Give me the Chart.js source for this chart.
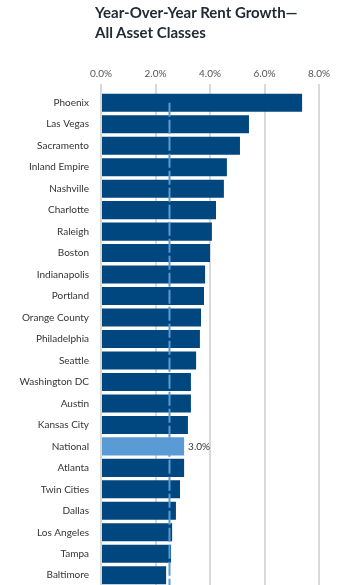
<!DOCTYPE html>
<html>
<head>
<meta charset="utf-8">
<script src="https://cdn.jsdelivr.net/npm/chart.js@4.4.1/dist/chart.umd.min.js"></script>
<style>
  html, body { margin: 0; padding: 0; background: #fff; overflow: hidden; }
  #wrap { position: relative; width: 339px; height: 585px; }
  #title { position: absolute; left: 95px; top: 2px; font-family: Lato, sans-serif; font-weight: bold;
           font-size: 15px; line-height: 20px; color: #222a36; }
  #chart { position: absolute; left: 0; top: 0; }
</style>
</head>
<body>
<div id="wrap">
  <canvas id="chart" width="339" height="586"></canvas>
  <div id="title">Year-Over-Year Rent Growth—<br>All Asset Classes</div>
</div>
<script>
// villes et croissance des loyers (%)
const markets = ['Phoenix', 'Las Vegas', 'Sacramento', 'Inland Empire', 'Nashville', 'Charlotte', 'Raleigh',
  'Boston', 'Indianapolis', 'Portland', 'Orange County', 'Philadelphia', 'Seattle', 'Washington DC',
  'Austin', 'Kansas City', 'National', 'Atlanta', 'Twin Cities', 'Dallas', 'Los Angeles', 'Tampa', 'Baltimore'];
const growth = [7.38, 5.43, 5.1, 4.62, 4.51, 4.22, 4.07, 4.0, 3.82, 3.78, 3.67, 3.63, 3.49, 3.3,
  3.3, 3.19, 3.05, 3.05, 2.9, 2.75, 2.61, 2.57, 2.39];
const xTicks = [0, 2, 4, 6, 8];
const highlight = 'National';
const highlightLabel = '3.0%';
const averageLine = 2.5;

const barColors = markets.map(m => m === highlight ? '#5b9bd5' : '#00467f');

// ligne pointillée + étiquette de la barre National
const extras = {
  id: 'extras',
  afterDatasetsDraw(chart) {
    const ctx = chart.ctx;
    const x = chart.scales.x;
    const y = chart.scales.y;
    const px = Math.round(x.getPixelForValue(averageLine)) + 0.5;
    ctx.save();
    ctx.strokeStyle = '#5b9bd5';
    ctx.lineWidth = 2;
    ctx.setLineDash([14, 3]);
    ctx.beginPath();
    ctx.moveTo(px, y.getPixelForValue(0));
    ctx.lineTo(px, chart.chartArea.bottom + 5);
    ctx.stroke();
    ctx.setLineDash([]);

    const i = markets.indexOf(highlight);
    const bar = chart.getDatasetMeta(0).data[i];
    ctx.fillStyle = '#333';
    ctx.font = '10px Lato, sans-serif';
    ctx.textBaseline = 'middle';
    ctx.textAlign = 'left';
    ctx.fillText(highlightLabel, bar.x + 4, bar.y);
    ctx.restore();
  }
};

const chart = new Chart(document.getElementById('chart'), {
  type: 'bar',
  data: {
    labels: markets,
    datasets: [{
      data: growth,
      backgroundColor: barColors,
      borderWidth: 0,
      barPercentage: 0.84,
      categoryPercentage: 1
    }]
  },
  options: {
    indexAxis: 'y',
    responsive: false,
    animation: false,
    events: [],
    layout: { padding: { left: 0, right: 20, top: 0, bottom: 0 } },
    plugins: { legend: { display: false }, tooltip: { enabled: false } },
    scales: {
      x: {
        position: 'top',
        min: 0,
        max: 8,
        afterBuildTicks: s => { s.ticks = xTicks.map(v => ({ value: v })); },
        afterFit: s => { s.height = 92; },
        border: { display: false },
        grid: { color: '#d9d9d9', lineWidth: 2, tickLength: 8 },
        ticks: {
          color: '#555',
          padding: 4,
          font: { family: 'Lato, sans-serif', size: 10 },
          callback: v => v.toFixed(1) + '%'
        }
      },
      y: {
        afterFit: s => { s.width = 101; s.paddingTop = 0; s.paddingBottom = 0; },
        border: { display: false },
        grid: { display: false, drawTicks: false },
        ticks: {
          color: '#333',
          padding: 12,
          font: { family: 'Lato, sans-serif', size: 10 }
        }
      }
    }
  },
  plugins: [extras]
});
</script>
</body>
</html>
